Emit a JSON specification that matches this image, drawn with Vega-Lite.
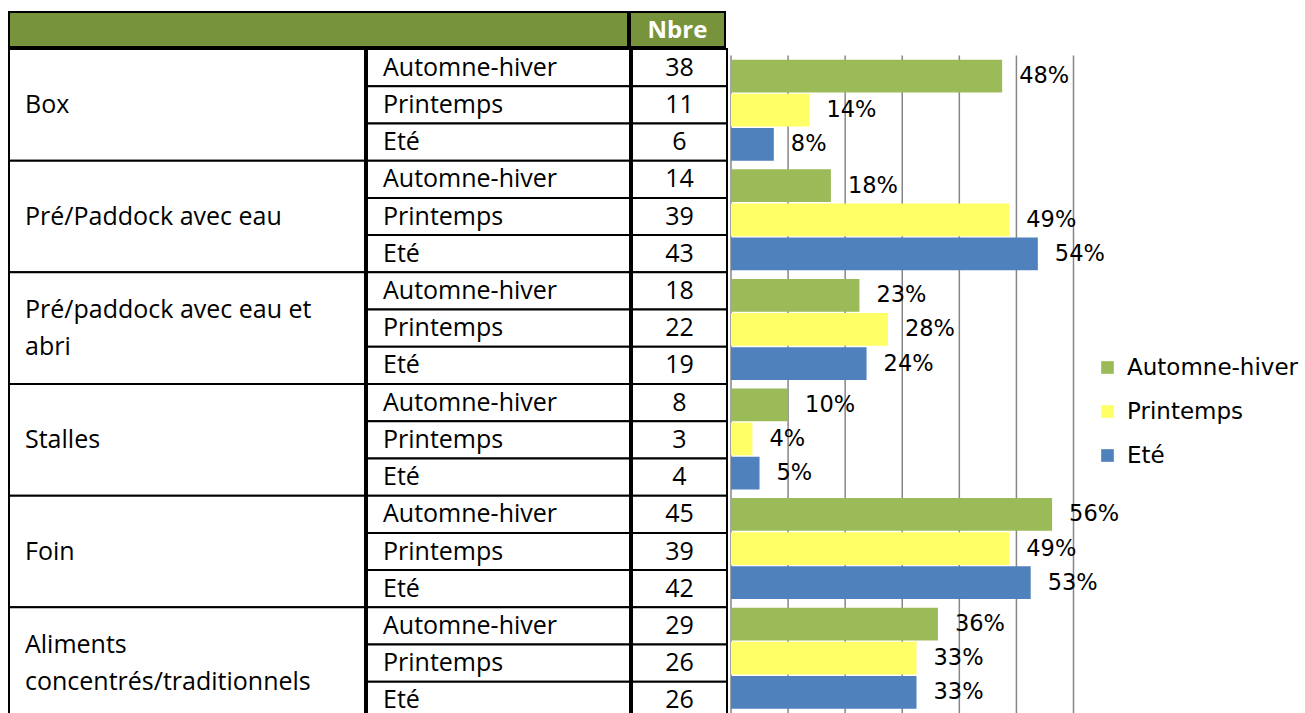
{
  "$schema": "https://vega.github.io/schema/vega-lite/v6.json",
  "padding": {"left": 8, "top": 11, "right": 0, "bottom": 0},
  "background": "white",
  "spacing": 0,
  "config": {"view": {"stroke": null}, "font": "Open Sans"},
  "datasets": {
    "groupes": [
      {"groupe": "Box", "libelle": "Box"},
      {"groupe": "Pré/Paddock avec eau", "libelle": "Pré/Paddock avec eau"},
      {"groupe": "Pré/paddock avec eau et abri", "libelle": "Pré/paddock avec eau et\nabri"},
      {"groupe": "Stalles", "libelle": "Stalles"},
      {"groupe": "Foin", "libelle": "Foin"},
      {"groupe": "Aliments concentrés/traditionnels", "libelle": "Aliments\nconcentrés/traditionnels"}
    ],
    "graduations": [{"v": 0}, {"v": 0.1}, {"v": 0.2}, {"v": 0.3}, {"v": 0.4}, {"v": 0.5}, {"v": 0.6}],
    "lignes": [
      {"groupe": "Box", "saison": "Automne-hiver", "nbre": 38, "pct": 0.475, "label": "48%"},
      {"groupe": "Box", "saison": "Printemps", "nbre": 11, "pct": 0.1375, "label": "14%"},
      {"groupe": "Box", "saison": "Eté", "nbre": 6, "pct": 0.075, "label": "8%"},
      {"groupe": "Pré/Paddock avec eau", "saison": "Automne-hiver", "nbre": 14, "pct": 0.175, "label": "18%"},
      {"groupe": "Pré/Paddock avec eau", "saison": "Printemps", "nbre": 39, "pct": 0.4875, "label": "49%"},
      {"groupe": "Pré/Paddock avec eau", "saison": "Eté", "nbre": 43, "pct": 0.5375, "label": "54%"},
      {"groupe": "Pré/paddock avec eau et abri", "saison": "Automne-hiver", "nbre": 18, "pct": 0.225, "label": "23%"},
      {"groupe": "Pré/paddock avec eau et abri", "saison": "Printemps", "nbre": 22, "pct": 0.275, "label": "28%"},
      {"groupe": "Pré/paddock avec eau et abri", "saison": "Eté", "nbre": 19, "pct": 0.2375, "label": "24%"},
      {"groupe": "Stalles", "saison": "Automne-hiver", "nbre": 8, "pct": 0.1, "label": "10%"},
      {"groupe": "Stalles", "saison": "Printemps", "nbre": 3, "pct": 0.0375, "label": "4%"},
      {"groupe": "Stalles", "saison": "Eté", "nbre": 4, "pct": 0.05, "label": "5%"},
      {"groupe": "Foin", "saison": "Automne-hiver", "nbre": 45, "pct": 0.5625, "label": "56%"},
      {"groupe": "Foin", "saison": "Printemps", "nbre": 39, "pct": 0.4875, "label": "49%"},
      {"groupe": "Foin", "saison": "Eté", "nbre": 42, "pct": 0.525, "label": "53%"},
      {"groupe": "Aliments concentrés/traditionnels", "saison": "Automne-hiver", "nbre": 29, "pct": 0.3625, "label": "36%"},
      {"groupe": "Aliments concentrés/traditionnels", "saison": "Printemps", "nbre": 26, "pct": 0.325, "label": "33%"},
      {"groupe": "Aliments concentrés/traditionnels", "saison": "Eté", "nbre": 26, "pct": 0.325, "label": "33%"}
    ]
  },
  "vconcat": [
    {
      "spacing": 0,
      "hconcat": [
        {
          "width": 619, "height": 35,
          "data": {"values": [{"c": "titre"}]},
          "mark": {"type": "rect", "fill": "#77933C", "stroke": "black", "strokeWidth": 2},
          "encoding": {
            "x": {"field": "c", "type": "nominal", "axis": null, "scale": {"paddingInner": 0, "paddingOuter": 0}},
            "y": {"field": "c", "type": "nominal", "axis": null, "scale": {"paddingInner": 0, "paddingOuter": 0}}
          }
        },
        {
          "width": 95, "height": 35,
          "data": {"values": [{"c": "Nbre"}]},
          "encoding": {
            "x": {"field": "c", "type": "nominal", "axis": null, "scale": {"paddingInner": 0, "paddingOuter": 0}},
            "y": {"field": "c", "type": "nominal", "axis": null, "scale": {"paddingInner": 0, "paddingOuter": 0}}
          },
          "layer": [
            {"mark": {"type": "rect", "fill": "#77933C", "stroke": "black", "strokeWidth": 2}},
            {"mark": {"type": "text", "align": "center", "baseline": "middle", "fontSize": 24, "fontWeight": "bold", "color": "white", "dy": 1},
             "encoding": {"text": {"field": "c"}}}
          ]
        }
      ]
    },
    {
      "spacing": 2,
      "resolve": {"scale": {"x": "independent", "y": "independent", "yOffset": "independent"}},
      "hconcat": [
        {
          "spacing": 0,
          "resolve": {"scale": {"x": "independent", "y": "independent", "yOffset": "independent"}},
          "hconcat": [
            {
              "width": 356, "height": 670,
              "data": {"name": "groupes"},
              "encoding": {
                "y": {"field": "groupe", "type": "nominal", "axis": null, "sort": null,
                      "scale": {"domain": ["Box", "Pré/Paddock avec eau", "Pré/paddock avec eau et abri", "Stalles", "Foin", "Aliments concentrés/traditionnels"], "paddingInner": 0, "paddingOuter": 0}}
              },
              "layer": [
                {"mark": {"type": "rect", "fill": "white", "stroke": "black", "strokeWidth": 2},
                 "encoding": {"x": {"datum": "Groupe", "type": "nominal", "axis": null, "scale": {"paddingInner": 0, "paddingOuter": 0}}}},
                {"transform": [{"filter": "indexof(datum.libelle, '\\n') < 0"}],
                 "mark": {"type": "text", "align": "left", "baseline": "middle", "dx": 16, "fontSize": 25, "color": "black"},
                 "encoding": {"x": {"datum": "Groupe", "type": "nominal", "bandPosition": 0, "axis": null, "scale": {"paddingInner": 0, "paddingOuter": 0}},
                              "text": {"field": "libelle"}}},
                {"transform": [{"filter": "indexof(datum.libelle, '\\n') >= 0"}],
                 "mark": {"type": "text", "align": "left", "baseline": "middle", "dx": 16, "dy": -18.5, "fontSize": 25, "lineBreak": "\n", "lineHeight": 37, "color": "black"},
                 "encoding": {"x": {"datum": "Groupe", "type": "nominal", "bandPosition": 0, "axis": null, "scale": {"paddingInner": 0, "paddingOuter": 0}},
                              "text": {"field": "libelle"}}}
              ]
            },
            {
              "width": 263, "height": 670,
              "data": {"name": "lignes"},
              "encoding": {
                "y": {"field": "groupe", "type": "nominal", "axis": null, "sort": null,
                      "scale": {"domain": ["Box", "Pré/Paddock avec eau", "Pré/paddock avec eau et abri", "Stalles", "Foin", "Aliments concentrés/traditionnels"], "paddingInner": 0, "paddingOuter": 0}},
                "yOffset": {"field": "saison", "type": "nominal", "sort": null,
                      "scale": {"domain": ["Automne-hiver", "Printemps", "Eté"], "paddingInner": 0, "paddingOuter": 0}}
              },
              "layer": [
                {"mark": {"type": "rect", "fill": "white", "stroke": "black", "strokeWidth": 2},
                 "encoding": {"x": {"datum": "Saison", "type": "nominal", "axis": null, "scale": {"paddingInner": 0, "paddingOuter": 0}}}},
                {"mark": {"type": "text", "align": "left", "baseline": "middle", "dx": 16, "fontSize": 25, "color": "black"},
                 "encoding": {"x": {"datum": "Saison", "type": "nominal", "bandPosition": 0, "axis": null, "scale": {"paddingInner": 0, "paddingOuter": 0}},
                              "text": {"field": "saison"}}}
              ]
            },
            {
              "width": 95, "height": 670,
              "data": {"name": "lignes"},
              "encoding": {
                "x": {"datum": "Nbre", "type": "nominal", "axis": null, "scale": {"paddingInner": 0, "paddingOuter": 0}},
                "y": {"field": "groupe", "type": "nominal", "axis": null, "sort": null,
                      "scale": {"domain": ["Box", "Pré/Paddock avec eau", "Pré/paddock avec eau et abri", "Stalles", "Foin", "Aliments concentrés/traditionnels"], "paddingInner": 0, "paddingOuter": 0}},
                "yOffset": {"field": "saison", "type": "nominal", "sort": null,
                      "scale": {"domain": ["Automne-hiver", "Printemps", "Eté"], "paddingInner": 0, "paddingOuter": 0}}
              },
              "layer": [
                {"mark": {"type": "rect", "fill": "white", "stroke": "black", "strokeWidth": 2}},
                {"mark": {"type": "text", "align": "center", "baseline": "middle", "fontSize": 25, "color": "black"},
                 "encoding": {"text": {"field": "nbre", "type": "quantitative"}}}
              ]
            }
          ]
        },
        {
          "width": 342.5, "height": 664,
          "layer": [
            {"data": {"name": "graduations"},
             "mark": {"type": "rule", "color": "#868686", "strokeWidth": 1.5},
             "encoding": {
               "x": {"field": "v", "type": "quantitative", "scale": {"domain": [0, 0.6], "nice": false}, "axis": null},
               "y": {"datum": "Box", "type": "nominal", "bandPosition": 0,
                     "scale": {"domain": ["Box", "Pré/Paddock avec eau", "Pré/paddock avec eau et abri", "Stalles", "Foin", "Aliments concentrés/traditionnels"], "paddingInner": 0, "paddingOuter": 0.0292, "align": 1},
                     "axis": null},
               "y2": {"datum": "Aliments concentrés/traditionnels", "bandPosition": 1}
             }},
            {"data": {"name": "lignes"},
             "mark": {"type": "bar"},
             "encoding": {
               "y": {"field": "groupe", "type": "nominal", "sort": null, "axis": null},
               "yOffset": {"field": "saison", "type": "nominal", "sort": null,
                     "scale": {"domain": ["Automne-hiver", "Printemps", "Eté"], "range": [4.3, 105.3], "paddingInner": 0.04, "paddingOuter": 0}},
               "x": {"field": "pct", "type": "quantitative"},
               "color": {"field": "saison", "type": "nominal",
                         "scale": {"domain": ["Automne-hiver", "Printemps", "Eté"], "range": ["#9BBB59", "#FFFF66", "#4F81BD"]},
                         "legend": {"orient": "none", "legendX": 1087, "legendY": 344, "title": null, "symbolType": "square", "symbolSize": 160, "symbolStrokeWidth": 0, "labelFont": "DejaVu Sans", "labelFontSize": 23, "labelLimit": 0, "labelColor": "black", "labelOffset": 8, "rowPadding": 20, "padding": 0}}
             }},
            {"data": {"name": "lignes"},
             "mark": {"type": "text", "align": "left", "baseline": "middle", "dx": 17, "font": "DejaVu Sans", "fontSize": 22.5, "color": "black"},
             "encoding": {
               "y": {"field": "groupe", "type": "nominal", "sort": null},
               "yOffset": {"field": "saison", "type": "nominal", "sort": null},
               "x": {"field": "pct", "type": "quantitative"},
               "text": {"field": "label"}
             }}
          ]
        }
      ]
    }
  ]
}
